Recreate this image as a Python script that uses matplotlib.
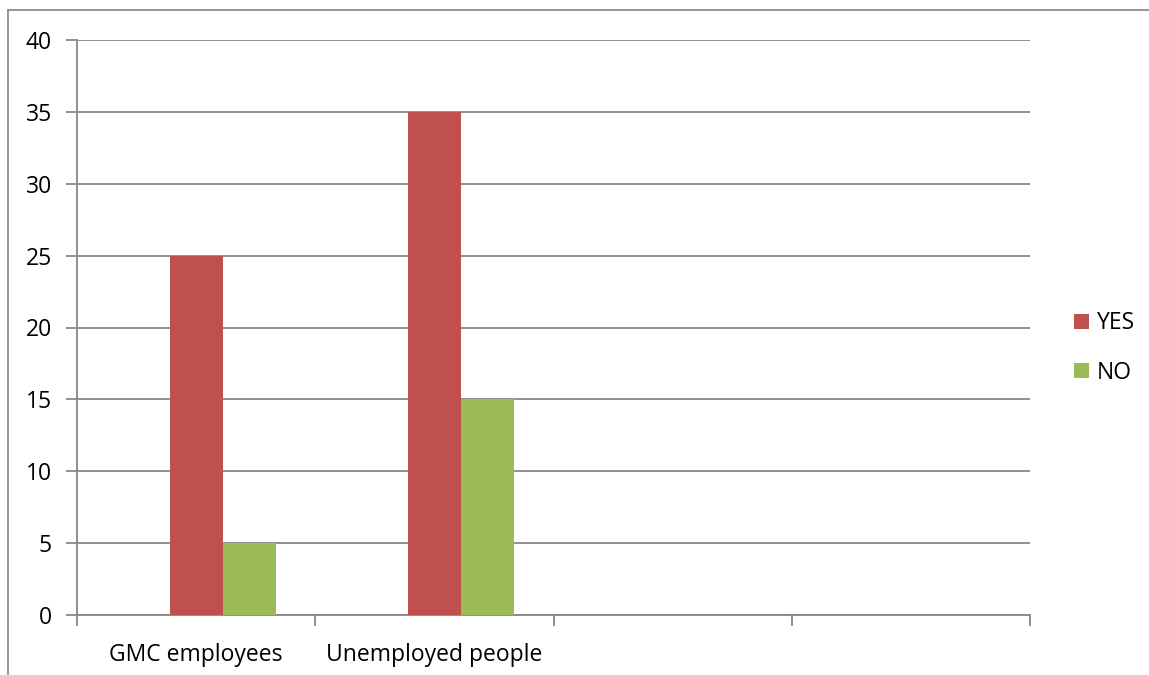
import matplotlib
matplotlib.use("Agg")
import matplotlib.pyplot as plt
from matplotlib.lines import Line2D
import numpy as np

categories = ["GMC employees", "Unemployed people", "", ""]
yes_values = [25, 35, 0, 0]
no_values = [5, 15, 0, 0]
series_names = ["YES", "NO"]
y_ticks = [0, 5, 10, 15, 20, 25, 30, 35, 40]

plt.rcParams['font.family'] = ['Open Sans', 'DejaVu Sans']

W, H = 1149, 675
fig = plt.figure(figsize=(W / 100, H / 100), dpi=100)
ax = fig.add_axes([77 / W, (H - 615) / H, 953 / W, 575 / H])

grid_c = "#878787"
fs = 16.5
x = np.arange(len(categories))
w = 53 / 238
ax.bar(x, yes_values, width=w, color="#C0504D", label=series_names[0], zorder=3)
ax.bar(x + w, no_values, width=w, color="#9BBB59", label=series_names[1], zorder=3)

ax.set_xlim(-0.5, len(categories) - 0.5)
ax.set_ylim(0, 40)
ax.set_yticks(y_ticks)
ax.yaxis.grid(True, color=grid_c, linewidth=1.3, zorder=0)
ax.set_axisbelow(True)

ax.set_xticks(np.arange(-0.5, len(categories), 1.0))
ax.set_xticklabels([])
ax.set_xticks(x, minor=True)
ax.set_xticklabels(categories, minor=True, fontsize=fs)
ax.tick_params(axis='x', which='minor', length=0, pad=20)
ax.tick_params(axis='x', which='major', length=8, color=grid_c, width=1.3, direction='out')
ax.tick_params(axis='y', length=8, color=grid_c, width=1.3, labelsize=fs, pad=10)

for s in ["top", "right"]:
    ax.spines[s].set_visible(False)
for s in ["left", "bottom"]:
    ax.spines[s].set_color(grid_c)
    ax.spines[s].set_linewidth(1.3)

leg = ax.legend(loc="center left", bbox_to_anchor=(1053 / W, (H - 348) / H),
                bbox_transform=fig.transFigure, frameon=False, fontsize=fs,
                handlelength=0.65, handleheight=0.65, handletextpad=0.35,
                labelspacing=1.1)

# outer chart border
fig.add_artist(Line2D([8 / W, 8 / W], [1 - 10 / H, 0], transform=fig.transFigure,
                      color="#8c8c8c", linewidth=1.3))
fig.add_artist(Line2D([8 / W, 1], [1 - 10 / H, 1 - 10 / H], transform=fig.transFigure,
                      color="#8c8c8c", linewidth=1.3))

fig.savefig("out.png", dpi=100)
